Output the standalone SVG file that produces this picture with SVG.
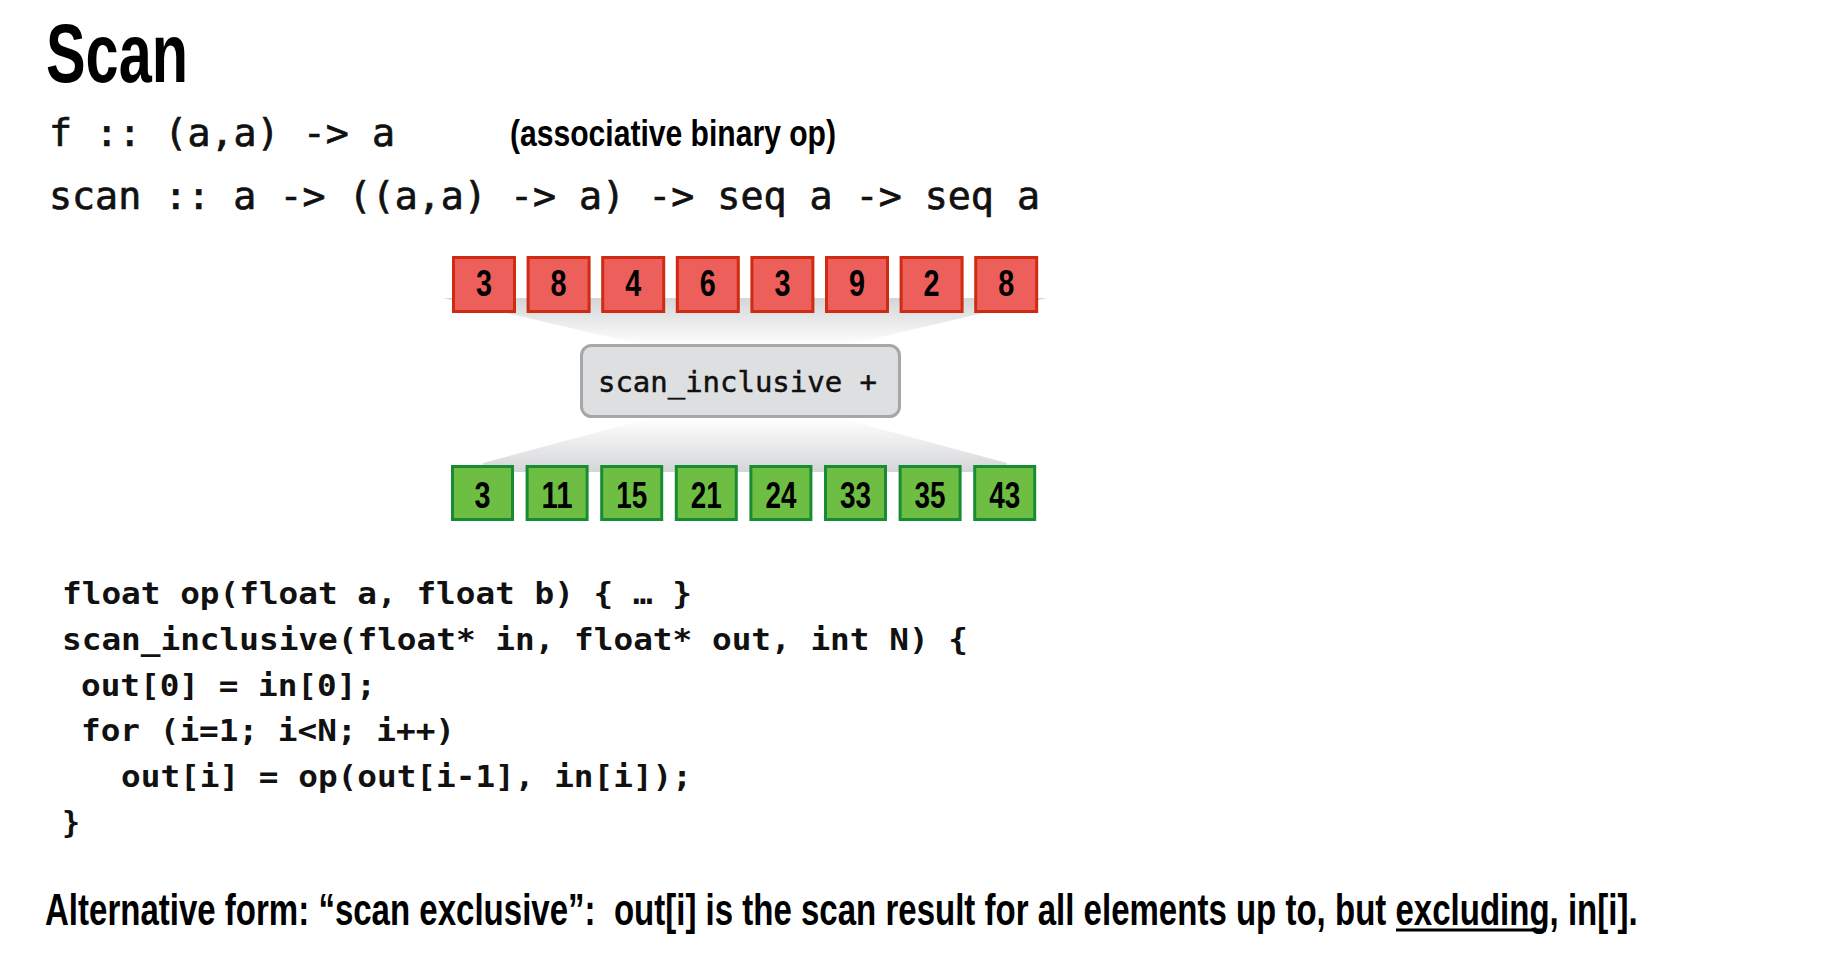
<svg xmlns="http://www.w3.org/2000/svg" width="1841" height="974" viewBox="0 0 1841 974">
  <style>
    .title { font-family: "Liberation Sans", Arial, sans-serif; font-weight: bold; fill: #000; }
    .mono { font-family: "DejaVu Sans Mono", "Liberation Mono", monospace; fill: #111; stroke: #111; stroke-width: 0.7; }
    .code { font-family: "DejaVu Sans Mono", "Liberation Mono", monospace; font-weight: bold; font-size: 30px; fill: #111; }
    .cond { font-family: "Liberation Sans", Arial, sans-serif; font-weight: bold; fill: #000; }
    .num { font-family: "Liberation Sans", Arial, sans-serif; font-weight: bold; font-size: 36px; fill: #000; text-anchor: middle; }
    .red { fill: #ed5f5a; stroke: #cf2a12; stroke-width: 3; }
    .green { fill: #6fbe44; stroke: #178c33; stroke-width: 3; }
    .op { fill: #dedfe1; stroke: #a5a7a9; stroke-width: 3; }
  </style>
  <defs>
    <linearGradient id="gTop" x1="0" y1="0" x2="0" y2="1">
      <stop offset="0" stop-color="#d4d5d7"/>
      <stop offset="1" stop-color="#ffffff"/>
    </linearGradient>
    <linearGradient id="gBot" x1="0" y1="0" x2="0" y2="1">
      <stop offset="0" stop-color="#ffffff"/>
      <stop offset="1" stop-color="#d4d5d7"/>
    </linearGradient>
  </defs>
  <rect width="1841" height="974" fill="#ffffff"/>

  <g id="header">
    <text class="title" x="46" y="82" font-size="84" textLength="142" lengthAdjust="spacingAndGlyphs">Scan</text>
    <text class="mono" x="49" y="146" font-size="37" textLength="346" lengthAdjust="spacingAndGlyphs">f :: (a,a) -&gt; a</text>
    <text class="cond" x="510" y="146" font-size="36" textLength="326" lengthAdjust="spacingAndGlyphs">(associative binary op)</text>
    <text class="mono" x="49" y="209" font-size="37" textLength="991" lengthAdjust="spacingAndGlyphs">scan :: a -&gt; ((a,a) -&gt; a) -&gt; seq a -&gt; seq a</text>
  </g>

  <g id="connectors">
    <polygon points="443,298 1047,298 843,346 647,346" fill="url(#gTop)"/>
    <polygon points="650,418 840,418 1007,463 1007,472 483,472 483,463" fill="url(#gBot)"/>
  </g>

  <g id="input">
    <g id="in0"><rect class="red" x="453.5" y="257.5" width="61" height="54"/><text class="num" x="484" y="296" textLength="16" lengthAdjust="spacingAndGlyphs">3</text></g>
    <g id="in1"><rect class="red" x="528.1" y="257.5" width="61" height="54"/><text class="num" x="558.6" y="296" textLength="16" lengthAdjust="spacingAndGlyphs">8</text></g>
    <g id="in2"><rect class="red" x="602.7" y="257.5" width="61" height="54"/><text class="num" x="633.2" y="296" textLength="16" lengthAdjust="spacingAndGlyphs">4</text></g>
    <g id="in3"><rect class="red" x="677.3" y="257.5" width="61" height="54"/><text class="num" x="707.8" y="296" textLength="16" lengthAdjust="spacingAndGlyphs">6</text></g>
    <g id="in4"><rect class="red" x="751.9" y="257.5" width="61" height="54"/><text class="num" x="782.4" y="296" textLength="16" lengthAdjust="spacingAndGlyphs">3</text></g>
    <g id="in5"><rect class="red" x="826.5" y="257.5" width="61" height="54"/><text class="num" x="857" y="296" textLength="16" lengthAdjust="spacingAndGlyphs">9</text></g>
    <g id="in6"><rect class="red" x="901.1" y="257.5" width="61" height="54"/><text class="num" x="931.6" y="296" textLength="16" lengthAdjust="spacingAndGlyphs">2</text></g>
    <g id="in7"><rect class="red" x="975.7" y="257.5" width="61" height="54"/><text class="num" x="1006.2" y="296" textLength="16" lengthAdjust="spacingAndGlyphs">8</text></g>
  </g>

  <g id="scan_op">
    <rect class="op" x="581.5" y="345.5" width="318" height="71" rx="10" ry="10"/>
    <text class="mono" x="598" y="392" font-size="29" textLength="279" lengthAdjust="spacingAndGlyphs" style="stroke-width:0.5">scan_inclusive +</text>
  </g>

  <g id="output">
    <g id="out0"><rect class="green" x="452.5" y="466.5" width="60" height="53"/><text class="num" x="482.5" y="508" textLength="16" lengthAdjust="spacingAndGlyphs">3</text></g>
    <g id="out1"><rect class="green" x="527.1" y="466.5" width="60" height="53"/><text class="num" x="557.1" y="508" textLength="31" lengthAdjust="spacingAndGlyphs">11</text></g>
    <g id="out2"><rect class="green" x="601.7" y="466.5" width="60" height="53"/><text class="num" x="631.7" y="508" textLength="31" lengthAdjust="spacingAndGlyphs">15</text></g>
    <g id="out3"><rect class="green" x="676.3" y="466.5" width="60" height="53"/><text class="num" x="706.3" y="508" textLength="31" lengthAdjust="spacingAndGlyphs">21</text></g>
    <g id="out4"><rect class="green" x="750.9" y="466.5" width="60" height="53"/><text class="num" x="780.9" y="508" textLength="31" lengthAdjust="spacingAndGlyphs">24</text></g>
    <g id="out5"><rect class="green" x="825.5" y="466.5" width="60" height="53"/><text class="num" x="855.5" y="508" textLength="31" lengthAdjust="spacingAndGlyphs">33</text></g>
    <g id="out6"><rect class="green" x="900.1" y="466.5" width="60" height="53"/><text class="num" x="930.1" y="508" textLength="31" lengthAdjust="spacingAndGlyphs">35</text></g>
    <g id="out7"><rect class="green" x="974.7" y="466.5" width="60" height="53"/><text class="num" x="1004.7" y="508" textLength="31" lengthAdjust="spacingAndGlyphs">43</text></g>
  </g>

  <g id="code">
    <text class="code" x="62" y="604" textLength="630" lengthAdjust="spacingAndGlyphs">float op(float a, float b) { … }</text>
    <text class="code" x="62" y="650" textLength="906" lengthAdjust="spacingAndGlyphs">scan_inclusive(float* in, float* out, int N) {</text>
    <text class="code" x="81" y="696" textLength="295" lengthAdjust="spacingAndGlyphs">out[0] = in[0];</text>
    <text class="code" x="81" y="741" textLength="374" lengthAdjust="spacingAndGlyphs">for (i=1; i&lt;N; i++)</text>
    <text class="code" x="121" y="787" textLength="571" lengthAdjust="spacingAndGlyphs">out[i] = op(out[i-1], in[i]);</text>
    <text class="code" x="62" y="833">}</text>
  </g>

  <g id="footer">
    <text class="cond" transform="scale(0.72,1)" x="62.5" y="925" font-size="44" textLength="2212" lengthAdjust="spacingAndGlyphs" xml:space="preserve">Alternative form: “scan exclusive”:  out[i] is the scan result for all elements up to, but excluding, in[i].</text>
    <line x1="1396" y1="930" x2="1546" y2="930" stroke="#000" stroke-width="3"/>
  </g>
</svg>
